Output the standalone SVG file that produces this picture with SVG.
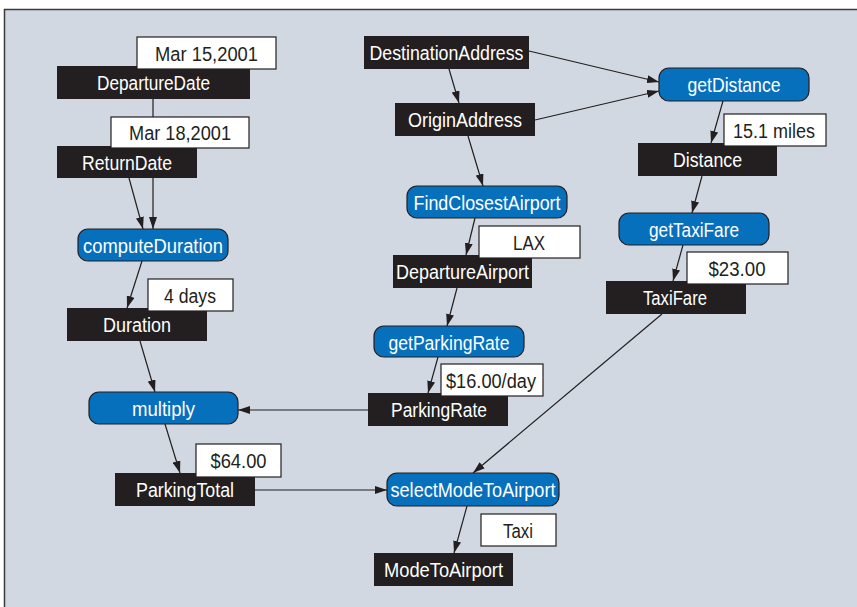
<svg xmlns="http://www.w3.org/2000/svg" width="857" height="607" viewBox="0 0 857 607">
<defs>
<marker id="ah" viewBox="0 0 12 8" refX="12" refY="4" markerWidth="12" markerHeight="8" markerUnits="userSpaceOnUse" orient="auto">
<path d="M0,0 L12,4 L0,8 Z" fill="#231f20"/>
</marker>
<style>
text{font-family:"Liberation Sans",Arial,sans-serif;font-size:20px;text-anchor:middle}
.d rect{fill:#231f20}
.d text{fill:#ffffff}
.f rect{fill:#0770bd;stroke:#231f20;stroke-width:1.2}
.f text{fill:#ffffff}
.v rect{fill:#ffffff;stroke:#231f20;stroke-width:1.2}
.v text{fill:#231f20}
#edges line{stroke:#231f20;stroke-width:1.2;fill:none}
.a{marker-end:url(#ah)}
</style>
</defs>
<rect x="0" y="0" width="857" height="607" fill="#ffffff"/>
<rect x="4" y="9" width="853" height="598" fill="#d1d8e1"/>
<line x1="4" y1="9.5" x2="857" y2="9.5" stroke="#3a3a3a" stroke-width="1.5"/>
<line x1="4.5" y1="9" x2="4.5" y2="607" stroke="#3a3a3a" stroke-width="1.5"/>

<g id="edges">
<line class="a" x1="153" y1="99" x2="153" y2="229"/>
<line class="a" x1="129" y1="178" x2="143" y2="229"/>
<line class="a" x1="142" y1="261" x2="127" y2="308"/>
<line class="a" x1="140" y1="341" x2="155" y2="392"/>
<line class="a" x1="368" y1="410" x2="238" y2="410"/>
<line class="a" x1="165" y1="424" x2="180" y2="473"/>
<line class="a" x1="255" y1="490" x2="387" y2="490"/>
<line class="a" x1="467" y1="506" x2="454" y2="553"/>
<line class="a" x1="449" y1="69" x2="459" y2="103"/>
<line class="a" x1="468" y1="136" x2="483" y2="186"/>
<line class="a" x1="529" y1="51" x2="659" y2="82"/>
<line class="a" x1="535" y1="120" x2="659" y2="91"/>
<line class="a" x1="475" y1="218" x2="466" y2="255"/>
<line class="a" x1="457" y1="288" x2="447" y2="326"/>
<line class="a" x1="438" y1="357" x2="428" y2="393"/>
<line class="a" x1="723" y1="101" x2="711" y2="143"/>
<line class="a" x1="702" y1="176" x2="692" y2="213"/>
<line class="a" x1="683" y1="245" x2="673" y2="281"/>
<line class="a" x1="662" y1="314" x2="473" y2="473"/>
</g>

<g id="DepartureDate" class="d"><rect x="57" y="66" width="193" height="33"/><text x="153.5" y="89.5" textLength="113" lengthAdjust="spacingAndGlyphs">DepartureDate</text></g>
<g id="DepartureDateValue" class="v"><rect x="137" y="37" width="139" height="32"/><text x="206.5" y="60.5" textLength="103" lengthAdjust="spacingAndGlyphs">Mar 15,2001</text></g>
<g id="ReturnDate" class="d"><rect x="57" y="146" width="140" height="32"/><text x="127" y="169.5" textLength="90" lengthAdjust="spacingAndGlyphs">ReturnDate</text></g>
<g id="ReturnDateValue" class="v"><rect x="111" y="117" width="138" height="31"/><text x="180" y="140" textLength="102" lengthAdjust="spacingAndGlyphs">Mar 18,2001</text></g>
<g id="computeDuration" class="f"><rect x="78" y="229" width="150" height="32" rx="10"/><text x="153" y="252.5" textLength="140" lengthAdjust="spacingAndGlyphs">computeDuration</text></g>
<g id="Duration" class="d"><rect x="67" y="308" width="140" height="33"/><text x="137" y="331.5" textLength="68" lengthAdjust="spacingAndGlyphs">Duration</text></g>
<g id="DurationValue" class="v"><rect x="148" y="279" width="85" height="32"/><text x="190" y="302.5" textLength="52" lengthAdjust="spacingAndGlyphs">4 days</text></g>
<g id="multiply" class="f"><rect x="89" y="392" width="149" height="32" rx="10"/><text x="163.5" y="415.5" textLength="63" lengthAdjust="spacingAndGlyphs">multiply</text></g>
<g id="ParkingTotal" class="d"><rect x="115" y="473" width="140" height="33"/><text x="185" y="496.5" textLength="98" lengthAdjust="spacingAndGlyphs">ParkingTotal</text></g>
<g id="ParkingTotalValue" class="v"><rect x="196" y="444" width="85" height="33"/><text x="238.5" y="467.5" textLength="56" lengthAdjust="spacingAndGlyphs">$64.00</text></g>

<g id="DestinationAddress" class="d"><rect x="364" y="36" width="165" height="33"/><text x="446.5" y="59.5" textLength="154" lengthAdjust="spacingAndGlyphs">DestinationAddress</text></g>
<g id="OriginAddress" class="d"><rect x="395" y="103" width="140" height="33"/><text x="465" y="126.5" textLength="114" lengthAdjust="spacingAndGlyphs">OriginAddress</text></g>
<g id="FindClosestAirport" class="f"><rect x="407" y="186" width="160" height="32" rx="10"/><text x="487" y="209.5" textLength="147" lengthAdjust="spacingAndGlyphs">FindClosestAirport</text></g>
<g id="DepartureAirport" class="d"><rect x="393" y="255" width="139" height="33"/><text x="462.5" y="278.5" textLength="133" lengthAdjust="spacingAndGlyphs">DepartureAirport</text></g>
<g id="DepartureAirportValue" class="v"><rect x="479" y="226" width="101" height="32"/><text x="529" y="249.5" textLength="32" lengthAdjust="spacingAndGlyphs">LAX</text></g>
<g id="getParkingRate" class="f"><rect x="374" y="326" width="150" height="31" rx="10"/><text x="449" y="349.5" textLength="121" lengthAdjust="spacingAndGlyphs">getParkingRate</text></g>
<g id="ParkingRate" class="d"><rect x="368" y="393" width="140" height="33"/><text x="439" y="416.5" textLength="96" lengthAdjust="spacingAndGlyphs">ParkingRate</text></g>
<g id="ParkingRateValue" class="v"><rect x="441" y="364" width="102" height="32"/><text x="491" y="387.5" textLength="90" lengthAdjust="spacingAndGlyphs">$16.00/day</text></g>
<g id="selectModeToAirport" class="f"><rect x="387" y="473" width="172" height="33" rx="10"/><text x="473" y="496.5" textLength="165" lengthAdjust="spacingAndGlyphs">selectModeToAirport</text></g>
<g id="ModeToAirport" class="d"><rect x="374" y="553" width="139" height="33"/><text x="443.5" y="576.5" textLength="119" lengthAdjust="spacingAndGlyphs">ModeToAirport</text></g>
<g id="ModeToAirportValue" class="v"><rect x="481" y="514" width="75" height="32"/><text x="518" y="537.5" textLength="30" lengthAdjust="spacingAndGlyphs">Taxi</text></g>

<g id="getDistance" class="f"><rect x="659" y="68" width="150" height="33" rx="10"/><text x="734" y="91.5" textLength="93" lengthAdjust="spacingAndGlyphs">getDistance</text></g>
<g id="Distance" class="d"><rect x="638" y="143" width="139" height="33"/><text x="707.5" y="166.5" textLength="69" lengthAdjust="spacingAndGlyphs">Distance</text></g>
<g id="DistanceValue" class="v"><rect x="724" y="114" width="102" height="32"/><text x="774" y="137.5" textLength="82" lengthAdjust="spacingAndGlyphs">15.1 miles</text></g>
<g id="getTaxiFare" class="f"><rect x="619" y="213" width="150" height="32" rx="10"/><text x="694" y="236.5" textLength="90" lengthAdjust="spacingAndGlyphs">getTaxiFare</text></g>
<g id="TaxiFare" class="d"><rect x="606" y="281" width="140" height="33"/><text x="675" y="304.5" textLength="64" lengthAdjust="spacingAndGlyphs">TaxiFare</text></g>
<g id="TaxiFareValue" class="v"><rect x="687" y="252" width="101" height="32"/><text x="737" y="275.5" textLength="57" lengthAdjust="spacingAndGlyphs">$23.00</text></g>
</svg>
